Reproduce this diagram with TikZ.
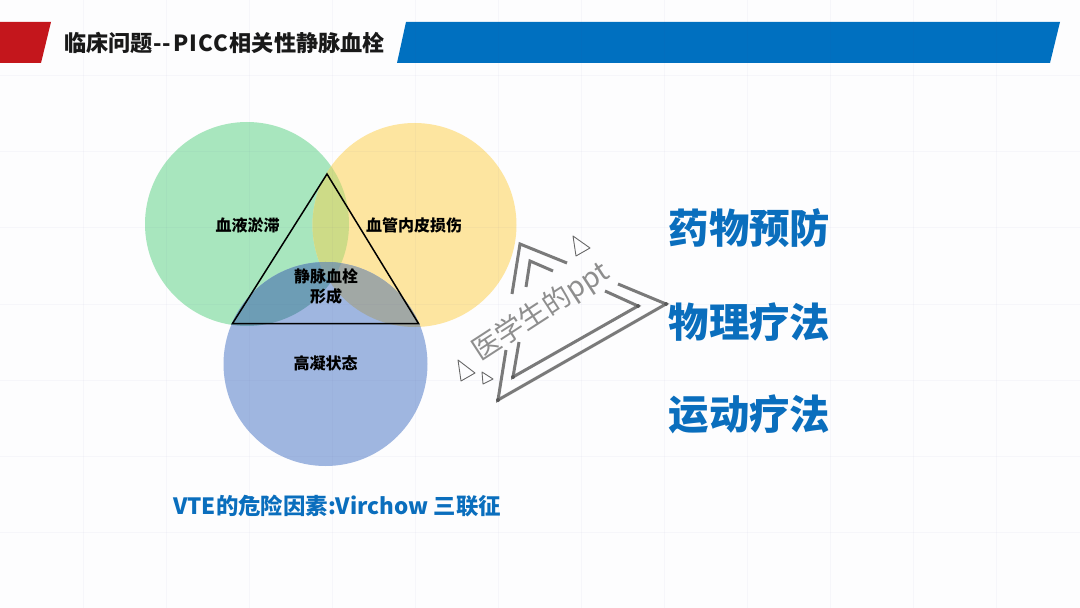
\documentclass[tikz,border=0pt]{standalone}
\usepackage{fontspec}
\setmainfont{Noto Sans CJK SC}
\usetikzlibrary{calc}
\definecolor{bg}{HTML}{FDFDFE}
\definecolor{hdred}{HTML}{C4161C}
\definecolor{hdblue}{HTML}{0070C0}
\definecolor{txtblue}{HTML}{0A6EBD}
\definecolor{cgreen}{HTML}{A8E6BE}
\definecolor{cyellow}{HTML}{FDE5A0}
\definecolor{cblue}{HTML}{9FB6E0}
\definecolor{cgy}{HTML}{CDDB87}
\definecolor{cgb}{HTML}{6D9DB5}
\definecolor{cyb}{HTML}{A1A8A5}
\definecolor{cgyb}{HTML}{84A2A6}
\definecolor{wm}{HTML}{7A7A7A}
\tikzset{
  gridline/.style={draw=black!30!blue!40!gray,opacity=.035,line width=1bp},
  wmline/.style={draw=wm,line width=3bp,line join=miter},
  wmtri/.style={draw=wm!85!black,line width=.9bp,line join=round},
  wmdot/.style={circle,fill=black!65,inner sep=0pt,minimum size=4bp},
  circlabel/.style={font=\bfseries\fontsize{16bp}{20bp}\selectfont,text=black,align=center,inner sep=0pt},
  bigtxt/.style={font=\bfseries\fontsize{40.4bp}{46bp}\selectfont,text=txtblue,inner sep=0pt},
}
\begin{document}
\begin{tikzpicture}[x=1bp,y=-1bp]
\useasboundingbox (0,0) rectangle (1080,608);
\fill[bg] (0,0) rectangle (1080,608);
% header bars
\fill[hdred] (0,22) -- (51,22) -- (41,63) -- (0,63) -- cycle;
\fill[hdblue] (406,22) -- (1060,22) -- (1050,63) -- (397,63) -- cycle;
% circles with their overlaps
\def\cg{(247,224) circle (102)}
\def\cy{(414.5,225) circle (102)}
\def\cb{(325.5,364) circle (102)}
\fill[cgreen] \cg;
\fill[cyellow] \cy;
\fill[cblue] \cb;
\begin{scope}\clip \cg; \fill[cgy] \cy; \end{scope}
\begin{scope}\clip \cg; \fill[cgb] \cb; \end{scope}
\begin{scope}\clip \cy; \fill[cyb] \cb; \end{scope}
\begin{scope}\clip \cg; \clip \cy; \fill[cgyb] \cb; \end{scope}
% faint background grid
\foreach \gx in {83,166,...,1000} \draw[gridline] (\gx,0) -- (\gx,608);
\foreach \gy in {76,152,...,540} \draw[gridline] (0,\gy) -- (1080,\gy);
% triangle
\draw[black,line width=1.5bp,line join=miter] (327,174) -- (418.5,323.5) -- (232.5,323.5) -- cycle;
% labels
\node[font=\bfseries\fontsize{22.2bp}{26bp}\selectfont,text=black!90,anchor=west,inner sep=0pt] (title) at (64,43) {临床问题{-}\kern1.5bp{-}\kern1.5bp P\kern1bp I\kern1bp C\kern1bp C\kern1bp 相关性静脉血栓};
\node[circlabel] (stasis) at (247.5,225) {血液淤滞};
\node[circlabel] (endo) at (414,225) {血管内皮损伤};
\node[circlabel] (throm) at (326,286) {静脉血栓\\形成};
\node[circlabel] (hyper) at (325.5,363) {高凝状态};
\node[bigtxt] (drug) at (749.5,228) {药物预防};
\node[bigtxt] (phys) at (749.5,322) {物理疗法};
\node[bigtxt] (sport) at (749.5,414) {运动疗法};
\node[font=\bfseries\fontsize{22.4bp}{26bp}\selectfont,text=txtblue,anchor=west,inner sep=0pt] (vte) at (173,505.5) {VTE的危险因素:Virchow 三联征};
% watermark
\draw[wmline] (512,294) -- (520,244) -- (567,263);
\draw[wmline] (526,287) -- (530,261) -- (553,271);
\draw[wmline] (506,350) -- (498,400) -- (666,304) -- (618,284);
\draw[wmline] (519,342) -- (513,377) -- (638,306) -- (605,291);
\node[wmdot] (d1) at (498,400) {};
\node[wmdot] (d2) at (513,377) {};
\node[wmdot] (d3) at (638,306) {};
\node[wmdot] (d4) at (666,304) {};
\draw[wmtri] (573,236) -- (576,256) -- (590,248) -- cycle;
\draw[wmtri] (458,360) -- (461,381) -- (475,373) -- cycle;
\draw[wmtri] (482,372) -- (483,384) -- (493,379) -- cycle;
\node[rotate=33,font=\fontsize{28bp}{32bp}\selectfont,text=wm!85,inner sep=0pt] (wmtxt) at (541,312) {医学生的ppt};
\end{tikzpicture}
\end{document}
